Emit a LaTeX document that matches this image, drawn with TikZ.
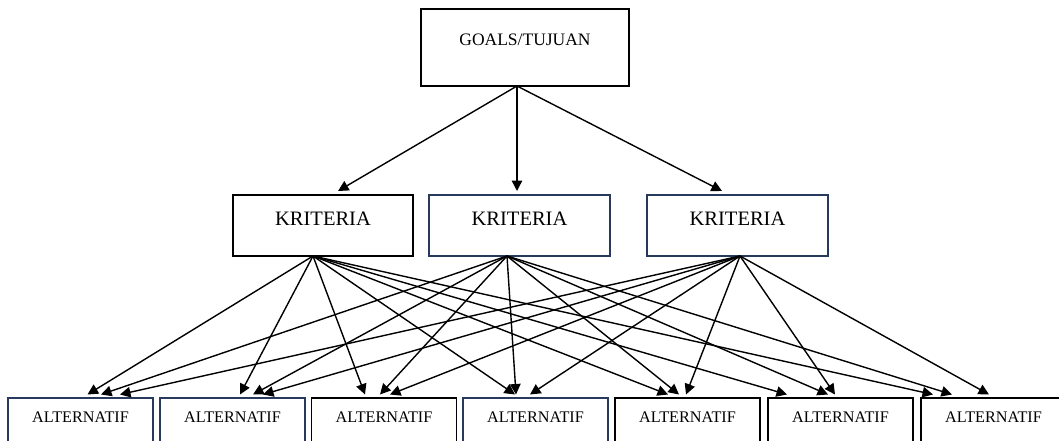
\documentclass[tikz,border=0pt]{standalone}
\usepackage{fontspec}
\setmainfont{Liberation Serif}
\usetikzlibrary{arrows.meta}
\definecolor{navy}{RGB}{40,58,92}
\begin{document}
\begin{tikzpicture}[x=1pt,y=-1pt,
  box/.style={draw=black, line width=1.5pt, inner sep=0pt, outer sep=0pt},
  nbox/.style={box, draw=navy, line width=1.3pt},
  arr/.style={line width=1.4pt, -{Triangle[length=10.5pt,width=10.5pt]}},
  gtxt/.style={anchor=base, inner sep=0pt, font=\fontsize{17.5}{20}\selectfont},
  ktxt/.style={anchor=base, inner sep=0pt, font=\fontsize{20.5}{24}\selectfont},
  atxt/.style={anchor=base, inner sep=0pt, font=\fontsize{16.2}{19}\selectfont}]
\useasboundingbox (0,0) rectangle (1059,441);
\clip (0,0) rectangle (1059,441);
\fill[white] (0,0) rectangle (1059,441);
% goal
\node[box, minimum width=208pt, minimum height=77pt] (goal) at (525,47.5) {};
\node[gtxt] (goalt) at (525,45.7) {GOALS/TUJUAN};
% criteria
\node[box, minimum width=180pt, minimum height=61pt] (k1) at (323,225.5) {};
\node[nbox, minimum width=181pt, minimum height=61pt] (k2) at (519.5,225.5) {};
\node[nbox, minimum width=181pt, minimum height=61pt] (k3) at (737.5,225.5) {};
\node[ktxt] (k1t) at (323,225) {KRITERIA};
\node[ktxt] (k2t) at (519.5,225) {KRITERIA};
\node[ktxt] (k3t) at (737.5,225) {KRITERIA};
% alternatives
\foreach \n/\cx/\col in {1/80.5/navy, 2/232.5/navy, 3/384/black, 4/535.5/navy, 5/687.5/black, 6/840.5/black, 7/993.5/black}{
  \node[box, draw=\col, minimum width=145pt, minimum height=73pt] (a\n) at (\cx,434.5) {};
  \node[atxt] (a\n t) at (\cx,422) {ALTERNATIF};
}
% goal to criteria
\draw[arr] ([xshift=-8pt]goal.south) -- ([xshift=15pt,yshift=4pt]k1.north);
\draw[arr] ([xshift=-8pt]goal.south) -- ([xshift=-2.5pt,yshift=4pt]k2.north);
\draw[arr] ([xshift=-8pt]goal.south) -- ([xshift=-15.5pt,yshift=4pt]k3.north);
% criteria to alternatives
\foreach \n/\p/\q/\r in {1/7/20.5/39.5, 2/7.5/20.5/30.5, 3/-19/-4/6, 4/-20.5/-19.5/-5.5, 5/-19.5/-8.5/-1.5, 6/-53.5/-12.5/-5.5, 7/-60.5/-41.5/-4.5}{
  \draw[arr] ([xshift=-10pt]k1.south) -- ([xshift=\p pt,yshift=3.5pt]a\n.north);
  \draw[arr] ([xshift=-12.5pt]k2.south) -- ([xshift=\q pt,yshift=3.5pt]a\n.north);
  \draw[arr] ([xshift=2.5pt]k3.south) -- ([xshift=\r pt,yshift=3.5pt]a\n.north);
}
\end{tikzpicture}
\end{document}
